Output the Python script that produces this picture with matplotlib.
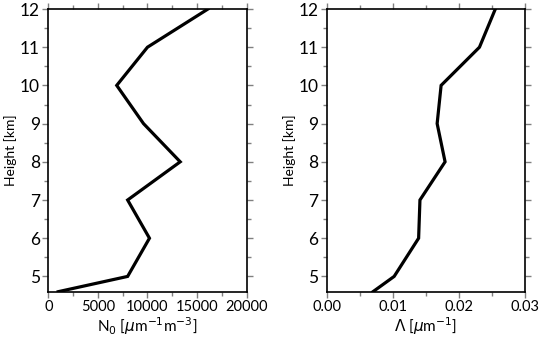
import numpy as np
import matplotlib
matplotlib.use("Agg")
from matplotlib import pyplot as plt
from matplotlib.ticker import MultipleLocator

plt.rcParams["font.family"] = ["Lato", "DejaVu Sans"]

# drop size distribution parameters vs. height
height = [4.6, 5, 6, 7, 8, 9, 10, 11, 12]
n0 = [1000, 8000, 10200, 8000, 13300, 9600, 6900, 10000, 16100]
lam = [0.0070, 0.0102, 0.0139, 0.0141, 0.0179, 0.0167, 0.0173, 0.0231, 0.0255]

fig = plt.figure(figsize=(5.4, 3.41), dpi=100)
ax1 = fig.add_axes([0.0894, 0.1446, 0.3674, 0.829])
ax2 = fig.add_axes([0.605, 0.1446, 0.3674, 0.829])


def style_axis(ax):
    ax.set_ylim(4.6, 12)
    ax.yaxis.set_major_locator(MultipleLocator(1))
    ax.yaxis.set_minor_locator(MultipleLocator(0.5))
    ax.tick_params(which="both", direction="out", top=True, right=True,
                   color="#808080", pad=2)
    ax.tick_params(axis="x", labelsize=10.5)
    ax.tick_params(axis="y", labelsize=12.5)
    ax.tick_params(which="major", length=4, width=1)
    ax.tick_params(which="minor", length=3, width=1)
    for s in ax.spines.values():
        s.set_linewidth(1.2)
    ax.set_ylabel("Height [km]", fontsize=10, labelpad=2)


ax1.plot(n0, height, color="black", lw=2.3, solid_joinstyle="miter")
ax1.set_xlim(0, 20000)
ax1.xaxis.set_major_locator(MultipleLocator(5000))
ax1.xaxis.set_minor_locator(MultipleLocator(2500))
ax1.set_xlabel("N$_0$ [$\\mu$m$^{-1}$m$^{-3}$]", fontsize=11, labelpad=1)
style_axis(ax1)

ax2.plot(lam, height, color="black", lw=2.3, solid_joinstyle="miter")
ax2.set_xlim(0, 0.03)
ax2.xaxis.set_major_locator(MultipleLocator(0.01))
ax2.xaxis.set_minor_locator(MultipleLocator(0.005))
ax2.xaxis.set_major_formatter(lambda v, p: f"{v:.2f}")
ax2.set_xlabel("$\\Lambda$ [$\\mu$m$^{-1}$]", fontsize=11, labelpad=1)
style_axis(ax2)

fig.savefig("out.png", dpi=100)
